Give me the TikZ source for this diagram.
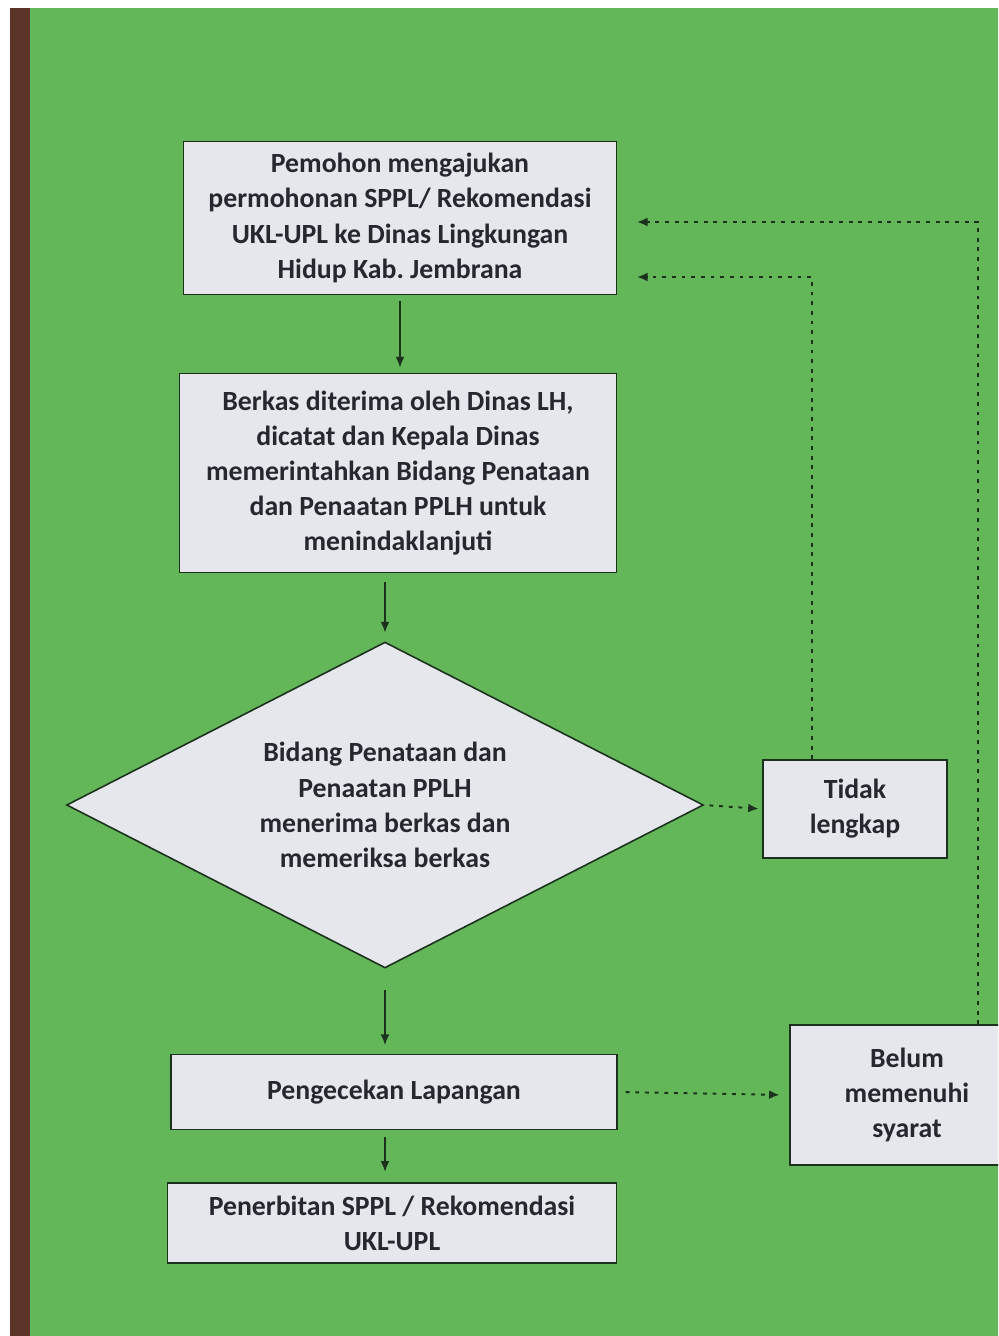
\documentclass[tikz,border=0pt]{standalone}
\usepackage{fontspec}
\setmainfont{Carlito}
\usetikzlibrary{shapes.geometric,arrows.meta}

\definecolor{papan}{RGB}{99,183,88}
\definecolor{kayu}{RGB}{92,52,40}
\definecolor{kertas}{RGB}{229,231,236}
\definecolor{garis}{RGB}{28,48,30}
\definecolor{huruf}{RGB}{38,40,48}

\frenchspacing
\begin{document}
\begin{tikzpicture}[x=0.02cm,y=-0.02cm,
   kotak/.style={draw=garis,line width=0.9pt,fill=kertas,text=huruf,align=center,
     inner sep=0pt,font=\fontsize{15.8}{20}\selectfont\bfseries},
   panah/.style={-{Latex[length=6pt,width=5pt]},draw=garis,line width=0.8pt},
   balik/.style={panah,line width=1.1pt,dash pattern=on 2.2pt off 3.3pt}]
   \useasboundingbox (0,0) rectangle (998,1336);
   \clip (0,0) rectangle (998,1336);
   \fill[white] (0,0) rectangle (998,1336);
   \fill[papan] (10,8) rectangle (998,1336);
   \fill[kayu] (10,8) rectangle (30,1336);

   \node[kotak,minimum width=8.66cm,minimum height=3.06cm] (b1) at (400,218)
     {Pemohon mengajukan\\permohonan SPPL/ Rekomendasi\\UKL-UPL ke Dinas Lingkungan\\Hidup Kab. Jembrana};
   \node[kotak,minimum width=8.74cm,minimum height=3.98cm] (b2) at (398,473)
     {Berkas diterima oleh Dinas LH,\\dicatat dan Kepala Dinas\\memerintahkan Bidang Penataan\\dan Penaatan PPLH untuk\\menindaklanjuti};
   \node[kotak,diamond,aspect=1.95,minimum width=12.74cm,minimum height=6.52cm] (dia) at (385,805)
     {Bidang Penataan dan\\Penaatan PPLH\\menerima berkas dan\\memeriksa berkas};
   \node[kotak,minimum width=3.68cm,minimum height=1.96cm] (tidak) at (855,809)
     {Tidak\\lengkap};
   \node[kotak,minimum width=8.92cm,minimum height=1.5cm] (cek) at (394,1092)
     {Pengecekan Lapangan};
   \node[kotak,minimum width=4.68cm,minimum height=2.8cm] (belum) at (907,1095)
     {Belum\\memenuhi\\syarat};
   \node[kotak,minimum width=8.98cm,minimum height=1.6cm] (terbit) at (392,1223)
     {Penerbitan SPPL / Rekomendasi\\UKL-UPL};

   \coordinate (k1) at (812,277);
   \coordinate (k2) at (978,222);
   \coordinate (m1) at (637,277);
   \coordinate (m2) at (637,222);

   \draw[panah,shorten <=3pt,shorten >=3pt] (b1.south) -- (b1.south |- b2.north);
   \draw[panah,shorten <=5pt,shorten >=5pt] (dia.north |- b2.south) -- (dia.north);
   \draw[panah,shorten <=12pt,shorten >=5pt] (dia.south) -- (dia.south |- cek.north);
   \draw[panah,shorten <=4pt,shorten >=6pt] (dia.south |- cek.south) -- (dia.south |- terbit.north);
   \draw[balik,shorten <=3pt,shorten >=2pt] (dia.east) -- (tidak.west);
   \draw[balik,shorten <=4.5pt,shorten >=5.5pt] (cek.east) -- (belum.west);
   \draw[balik] (tidak.north -| k1) |- (m1);
   \draw[balik] (belum.north -| k2) |- (m2);
\end{tikzpicture}
\end{document}
